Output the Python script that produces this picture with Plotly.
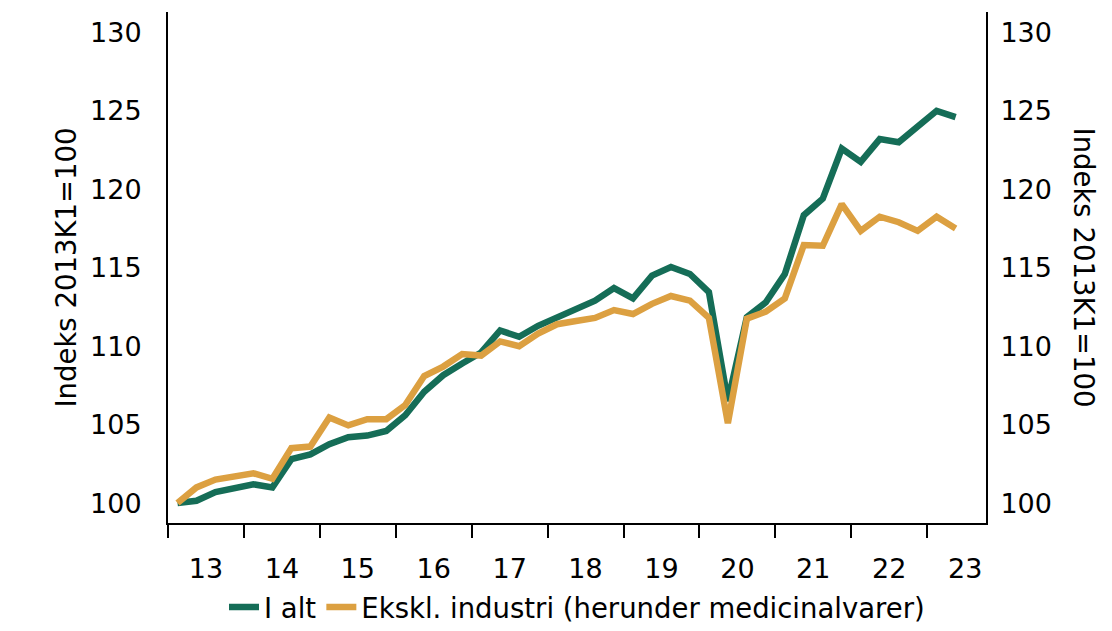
import plotly.graph_objects as go

quarters = [f"{y}K{q}" for y in range(2013, 2024) for q in range(1, 5)][:42]
i_alt = [100.0, 100.15, 100.7, 100.9, 101.2, 101.0, 102.8, 103.1, 103.75, 104.2,
         104.3, 104.6, 105.6, 107.1, 108.15, 108.9, 109.6, 111.0, 110.6, 111.3,
         111.8, 112.35, 112.9, 113.7, 113.05, 114.5, 115.05, 114.6, 113.45, 106.5,
         111.85, 112.8, 114.6, 118.35, 119.4, 122.6, 121.75, 123.2, 123.0, 124.0,
         125.0, 124.6]
ekskl = [100.0, 101.0, 101.5, 101.7, 101.9, 101.55, 103.5, 103.6, 105.45, 104.95,
         105.35, 105.35, 106.25, 108.1, 108.7, 109.5, 109.4, 110.3, 110.0, 110.8,
         111.4, 111.6, 111.8, 112.3, 112.05, 112.7, 113.2, 112.9, 111.8, 105.1,
         111.75, 112.2, 113.05, 116.45, 116.4, 119.05, 117.35, 118.25, 117.9, 117.35,
         118.25, 117.5]
year_labels = ["13", "14", "15", "16", "17", "18", "19", "20", "21", "22", "23"]
y_ticks = [100, 105, 110, 115, 120, 125, 130]
y_title = "Indeks 2013K1=100"
names = ["I alt", "Ekskl. industri (herunder medicinalvarer)"]

GREEN = "#156d57"
ORANGE = "#dca041"
FONT = "DejaVu Sans"
FS = 27.5
TFS = 27

x = [i + 0.5 for i in range(len(quarters))]
year_centers = [4 * k + 2 for k in range(len(year_labels))]
year_bounds = [4 * k for k in range(len(year_labels))]

fig = go.Figure()
fig.add_trace(go.Scatter(x=x, y=i_alt, name=names[0], mode="lines",
                         line=dict(color=GREEN, width=6.5), customdata=quarters))
fig.add_trace(go.Scatter(x=x, y=ekskl, name=names[1], mode="lines",
                         line=dict(color=ORANGE, width=6.5), customdata=quarters))
fig.add_trace(go.Scatter(x=x, y=i_alt, yaxis="y2", mode="lines",
                         line=dict(color="rgba(0,0,0,0)", width=0),
                         showlegend=False, hoverinfo="skip"))

yr = [98.73, 131.3]
fig.update_layout(
    width=1112, height=631,
    margin=dict(l=168, r=126, t=12, b=108, autoexpand=False),
    paper_bgcolor="white", plot_bgcolor="white",
    font=dict(family=FONT, size=FS, color="black"),
    showlegend=True,
    legend=dict(orientation="h", x=0.5, xanchor="center",
                yref="container", y=0.038, yanchor="middle",
                bgcolor="rgba(0,0,0,0)",
                font=dict(size=FS), itemwidth=30, tracegroupgap=0),
    xaxis=dict(range=[0, 43.1], tickmode="array", tickvals=year_centers,
               ticktext=year_labels, ticks="outside", ticklen=0,
               ticklabelstandoff=21, automargin=False, tickfont=dict(size=TFS),
               showline=True, linecolor="black", linewidth=2,
               showgrid=False, zeroline=False,
               minor=dict(tickmode="array", tickvals=year_bounds, ticks="outside",
                          ticklen=13, tickwidth=2, tickcolor="black", showgrid=False)),
    yaxis=dict(range=yr, tickmode="array", tickvals=y_ticks, ticks="",
               ticklabelstandoff=19, automargin=False, tickfont=dict(size=TFS),
               showline=True, linecolor="black", linewidth=2,
               showgrid=False, zeroline=False),
    yaxis2=dict(range=yr, overlaying="y", side="right", tickmode="array",
                tickvals=y_ticks, ticks="", ticklabelstandoff=7, automargin=False,
                tickfont=dict(size=TFS),
                showline=True, linecolor="black", linewidth=2,
                showgrid=False, zeroline=False),
    annotations=[
        dict(text=y_title, xref="paper", yref="paper", x=-0.1247, y=0.5,
             textangle=-90, showarrow=False, font=dict(size=FS),
             xanchor="center", yanchor="middle"),
        dict(text=y_title, xref="paper", yref="paper", x=1.121, y=0.5,
             textangle=90, showarrow=False, font=dict(size=FS),
             xanchor="center", yanchor="middle"),
    ],
)

fig.write_html("out.html", config={"displayModeBar": False},
               post_script="document.body.style.margin='0';")
